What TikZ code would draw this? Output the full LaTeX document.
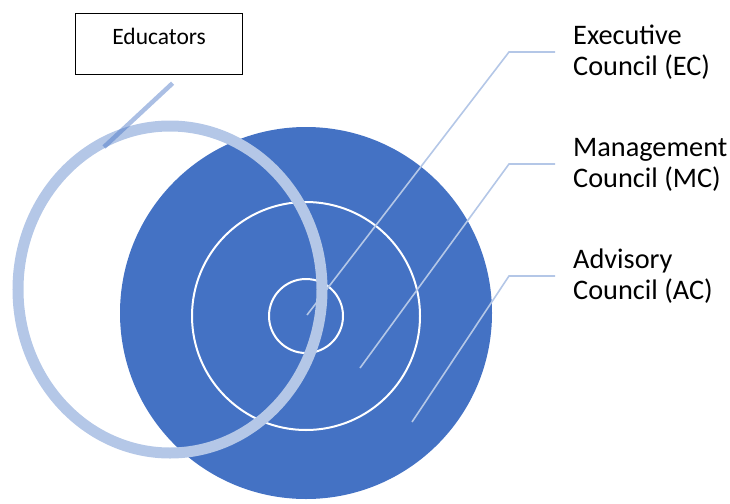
\documentclass[tikz,border=0pt]{standalone}
\usepackage{fontspec}
\setmainfont{Carlito}
\definecolor{ocblue}{HTML}{4472C4}
\definecolor{oclight}{HTML}{B4C7E7}

\begin{document}
\begin{tikzpicture}[x=1pt, y=-1pt,
    leader/.style={draw=oclight, line width=1.6pt},
    council/.style={anchor=west, align=left, inner sep=0pt,
      font=\fontsize{28.3}{31}\selectfont}]
  \useasboundingbox (0,0) rectangle (730,503);

  % the councils, one inside the other
  \fill[ocblue] (306,313) circle [radius=186pt];
  \draw[white, line width=2pt] (306,316) circle [radius=114pt];
  \draw[white, line width=2pt] (306,316) circle [radius=37pt];

  % educators ring
  \draw[oclight, line width=11pt] (170,289.5) circle [x radius=152pt, y radius=163.5pt];

  \node[draw, line width=1.2pt, minimum width=167pt, inner xsep=0pt,
        inner ysep=11pt, text height=20pt, text depth=19pt,
        anchor=north west, font=\fontsize{23.5}{26}\selectfont]
        (edu) at (75,13) {Educators};
  \coordinate (edutip) at (104,147);
  \draw[ocblue, opacity=0.45, line width=4.5pt]
    ([xshift=13.5pt, yshift=-8pt]edu.south) -- (edutip);

  % labels on the right
  \node[council] (ec) at (573,52) {Executive\\Council (EC)};
  \node[council] (mc) at (573,164.5) {Management\\Council (MC)};
  \node[council] (ac) at (573,276) {Advisory\\Council (AC)};

  \coordinate (ecin) at (307,315);
  \coordinate (mcin) at (360,368);
  \coordinate (acin) at (412,422);
  \coordinate (ecknee) at (509,52);
  \coordinate (mcknee) at (509,164);
  \coordinate (acknee) at (509,276);

  \draw[leader, shorten >=18pt] (ecin) -- (ecknee) -- (ecknee -| ec.west);
  \draw[leader, shorten >=18pt] (mcin) -- (mcknee) -- (mcknee -| mc.west);
  \draw[leader, shorten >=18pt] (acin) -- (acknee) -- (acknee -| ac.west);
\end{tikzpicture}
\end{document}
